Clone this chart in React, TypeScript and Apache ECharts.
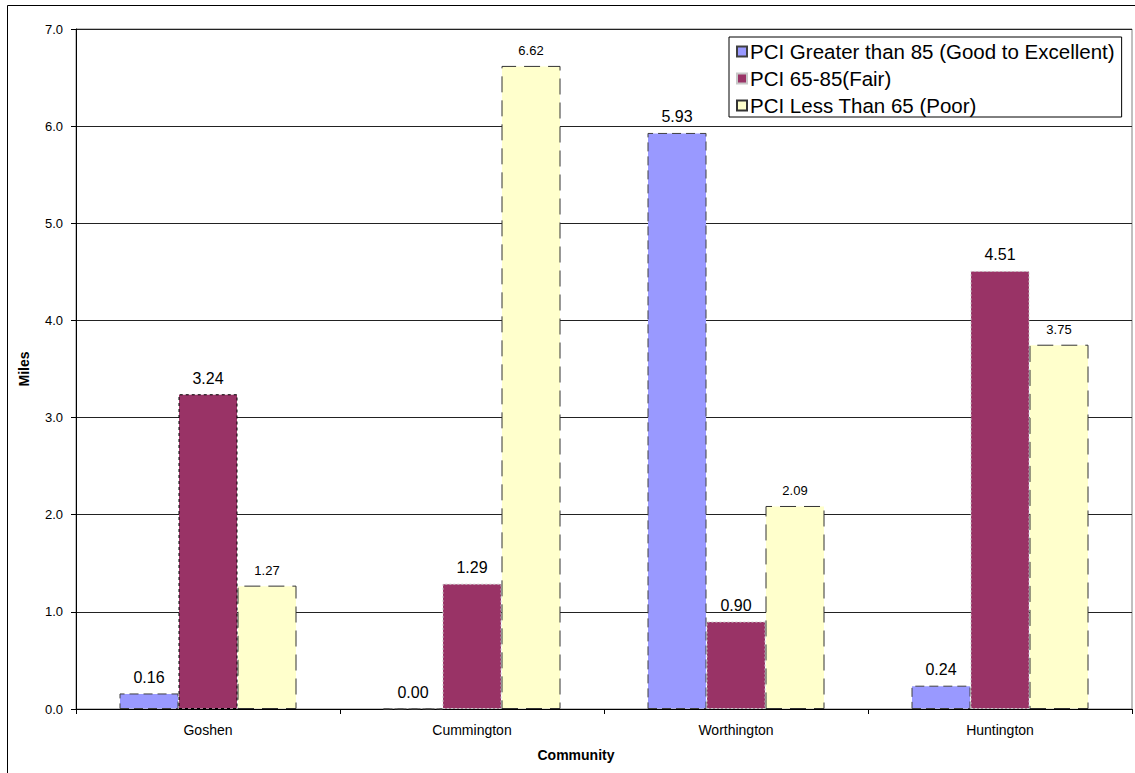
import React, { useEffect, useRef } from "react";
import * as echarts from "echarts";

const categories = ["Goshen", "Cummington", "Worthington", "Huntington"];
const seriesNames = [
  "PCI Greater than 85 (Good to Excellent)",
  "PCI 65-85(Fair)",
  "PCI Less Than 65 (Poor)",
];
const goodValues = [0.16, 0.0, 5.93, 0.24];
const fairValues = [3.24, 1.29, 0.9, 4.51];
const poorValues = [1.27, 6.62, 2.09, 3.75];
const yTicks = [0, 1, 2, 3, 4, 5, 6, 7];

const FONT = "'Liberation Sans', Arial, sans-serif";

export default function App() {
  const ref = useRef<HTMLDivElement>(null);
  useEffect(() => {
    document.body.style.margin = "0";
    if (!ref.current) return;
    const chart = echarts.init(ref.current, null, { renderer: "svg" });
    const labelFmt = (p: any) => Number(p.value).toFixed(2);
    chart.setOption({
      animation: false,
      backgroundColor: "#ffffff",
      textStyle: { fontFamily: FONT },
      grid: {
        left: 76,
        top: 29,
        width: 1056,
        height: 680,
        show: true,
        borderColor: "#808080",
        borderWidth: 1,
        backgroundColor: "transparent",
      },
      legend: {
        orient: "vertical",
        left: 729,
        top: 37,
        padding: [4, 7, 1, 7],
        itemWidth: 10,
        itemHeight: 10,
        itemGap: 6,
        icon: "rect",
        backgroundColor: "#ffffff",
        borderColor: "#000000",
        borderWidth: 1,
        borderRadius: 0,
        textStyle: {
          fontSize: 20.5,
          color: "#000",
          fontFamily: FONT,
          padding: [0, 0, 0, -2],
        },
        data: seriesNames,
      },
      xAxis: {
        type: "category",
        data: categories,
        axisLine: { lineStyle: { color: "#000", width: 1 } },
        axisTick: { show: true, length: 5, alignWithLabel: false, lineStyle: { color: "#000" } },
        axisLabel: { fontSize: 14, color: "#000", margin: 14, fontFamily: FONT },
        splitLine: { show: false },
      },
      yAxis: {
        type: "value",
        min: 0,
        max: 7,
        interval: 1,
        name: "Miles",
        nameLocation: "middle",
        nameRotate: 90,
        nameGap: 45,
        nameTextStyle: { fontSize: 14, fontWeight: "bold", color: "#000", fontFamily: FONT },
        axisLine: { show: true, lineStyle: { color: "#000", width: 1 } },
        axisTick: { show: true, length: 5, lineStyle: { color: "#000" } },
        axisLabel: {
          fontSize: 13,
          color: "#000",
          margin: 13,
          fontFamily: FONT,
          formatter: (v: number) => (yTicks.includes(v) ? v.toFixed(1) : ""),
        },
        splitLine: { show: true, lineStyle: { color: "#222", width: 1 } },
      },
      graphic: [
        {
          type: "rect",
          shape: { x: 7.5, y: 5.5, width: 1200, height: 900 },
          style: { fill: "none", stroke: "#000", lineWidth: 1 },
          silent: true,
          z: 100,
        },
        {
          type: "text",
          x: 576,
          y: 755,
          style: {
            text: "Community",
            fontSize: 14,
            fontWeight: "bold",
            fill: "#000",
            fontFamily: FONT,
            textAlign: "center",
            textVerticalAlign: "middle",
          },
        },
      ],
      series: [
        {
          name: seriesNames[0],
          type: "bar",
          data: goodValues,
          barWidth: 59,
          barGap: "0%",
          itemStyle: {
            color: "#9999FF",
            borderColor: "#404040",
            borderWidth: 1,
            borderType: [9, 5],
          },
          label: {
            show: true,
            position: "top",
            distance: 8,
            fontSize: 16,
            color: "#000",
            fontFamily: FONT,
            formatter: labelFmt,
          },
        },
        {
          name: seriesNames[1],
          type: "bar",
          data: fairValues.map((v, i) =>
            i === 0
              ? { value: v, itemStyle: { borderColor: "#000000", borderType: [3, 3] } }
              : v
          ),
          barWidth: 59,
          barGap: "0%",
          itemStyle: {
            color: "#993366",
            borderColor: "#c8c8c8",
            borderWidth: 1,
            borderType: [2, 2],
          },
          label: {
            show: true,
            position: "top",
            distance: 8,
            fontSize: 16,
            color: "#000",
            fontFamily: FONT,
            formatter: labelFmt,
          },
        },
        {
          name: seriesNames[2],
          type: "bar",
          data: poorValues,
          barWidth: 59,
          barGap: "0%",
          itemStyle: {
            color: "#FFFFCC",
            borderColor: "#333333",
            borderWidth: 1,
            borderType: [16, 8],
          },
          label: {
            show: true,
            position: "top",
            distance: 9,
            fontSize: 13,
            color: "#000",
            fontFamily: FONT,
            formatter: labelFmt,
          },
        },
      ],
    });
    return () => chart.dispose();
  }, []);
  return <div ref={ref} style={{ width: 1135, height: 773 }} />;
}
